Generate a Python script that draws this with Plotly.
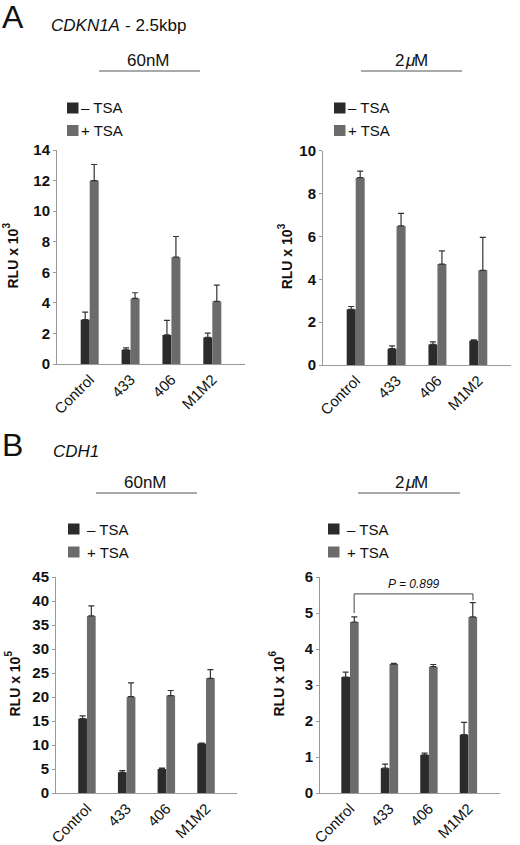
import plotly.graph_objects as go

categories = ["Control", "433", "406", "M1M2"]
series_names = ["– TSA", "+ TSA"]

# Panel A (CDKN1A - 2.5kbp), 60nM
a60_minus = [2.9, 0.93, 1.9, 1.74]
a60_minus_err = [0.5, 0.12, 0.95, 0.28]
a60_plus = [12.0, 4.29, 6.99, 4.1]
a60_plus_err = [1.05, 0.37, 1.35, 1.06]

# Panel A, 2uM
a2_minus = [2.6, 0.76, 0.96, 1.14]
a2_minus_err = [0.13, 0.13, 0.12, 0.03]
a2_plus = [8.74, 6.49, 4.71, 4.42]
a2_plus_err = [0.31, 0.59, 0.62, 1.54]

# Panel B (CDH1), 60nM
b60_minus = [15.5, 4.3, 5.0, 10.3]
b60_minus_err = [0.55, 0.35, 0.2, 0.12]
b60_plus = [36.9, 20.06, 20.3, 23.9]
b60_plus_err = [2.1, 2.9, 1.05, 1.8]

# Panel B, 2uM
b2_minus = [3.22, 0.69, 1.06, 1.62]
b2_minus_err = [0.14, 0.11, 0.05, 0.34]
b2_plus = [4.75, 3.58, 3.51, 4.89]
b2_plus_err = [0.14, 0.02, 0.06, 0.4]

y_ranges = [[0, 14], [0, 10], [0, 45], [0, 6]]
y_dticks = [2, 2, 5, 1]
y_title_base = "RLU x 10"
y_title_exps = ["3", "3", "5", "6"]
p_label = "P = 0.899"

DARK = "#2b2b2b"
LIGHT = "#6b6b6b"
AXIS = "#9a9a9a"
FONT = "Liberation Sans, Arial, sans-serif"
W, H = 520, 845

def px(x):
    return x / W

def py(y):
    return 1 - y / H

panels = [
    (a60_minus, a60_minus_err, a60_plus, a60_plus_err),
    (a2_minus, a2_minus_err, a2_plus, a2_plus_err),
    (b60_minus, b60_minus_err, b60_plus, b60_plus_err),
    (b2_minus, b2_minus_err, b2_plus, b2_plus_err),
]
plot_px = [
    (57, 245, 150, 364),
    (323, 511, 150.7, 365),
    (56, 237, 577, 793),
    (320, 500, 577, 793),
]
x_ranges = [[-0.8, 3.8], [-0.8, 3.8], [-0.78, 3.78], [-0.76, 3.8]]
title_x = [12, 287, 14, 278]

fig = go.Figure()
layout = {}
annotations = []
shapes = []

def text(x, y, s, size, italic=False, xanchor="center", weight="normal", angle=0):
    annotations.append(dict(
        x=px(x), y=py(y), xref="paper", yref="paper", text=s, showarrow=False,
        xanchor=xanchor, yanchor="middle", textangle=angle,
        font=dict(family=FONT, size=size, color="#111", style="italic" if italic else "normal",
                  weight=weight),
    ))

for i, (mv, me, pv, pe) in enumerate(panels):
    n = i + 1
    xa = "x" if n == 1 else f"x{n}"
    ya = "y" if n == 1 else f"y{n}"
    for vals, errs, col, name in [(mv, me, DARK, series_names[0]), (pv, pe, LIGHT, series_names[1])]:
        fig.add_trace(go.Bar(
            x=categories, y=vals, name=name, marker=dict(color=col, line=dict(width=0)),
            error_y=dict(type="data", symmetric=False, array=errs, arrayminus=[0] * len(errs),
                         color="#333333", thickness=1.2, width=3),
            xaxis=xa, yaxis=ya, showlegend=False,
        ))
    x0p, x1p, y0p, y1p = plot_px[i]
    xk = "xaxis" if n == 1 else f"xaxis{n}"
    yk = "yaxis" if n == 1 else f"yaxis{n}"
    layout[xk] = dict(
        domain=[px(x0p), px(x1p)], anchor=ya, range=x_ranges[i], type="category",
        showline=True, linecolor=AXIS, linewidth=1, ticks="", showgrid=False,
        tickangle=-45, tickfont=dict(family=FONT, size=15, color="#111"), zeroline=False,
        automargin=False,
    )
    layout[yk] = dict(
        domain=[py(y1p), py(y0p)], anchor=xa, range=y_ranges[i], dtick=y_dticks[i],
        showline=True, linecolor=AXIS, linewidth=1, ticks="outside", ticklen=3,
        tickcolor=AXIS, showgrid=False, zeroline=False, automargin=False,
        tickfont=dict(family=FONT, size=15, color="#111", weight="bold"),
    )
    # axis title with raised exponent
    ymid = (y0p + y1p) / 2 + 1.5
    text(title_x[i], ymid, y_title_base, 14, weight="bold", angle=-90)
    text(title_x[i] - 6, ymid - 33, y_title_exps[i], 10, weight="bold", angle=-90)

# Panel letters and gene titles
text(0, 17, "A", 32, xanchor="left")
text(49, 25, "CDKN1A", 17, italic=True, xanchor="left")
text(123, 25, "- 2.5kbp", 17, xanchor="left")
text(0, 445, "B", 32, xanchor="left")
text(51, 451, "CDH1", 17, italic=True, xanchor="left")

# Concentration headers with lines
for cx, cy, x0, x1, ly, unit in [
    (148, 60, 99, 200, 71, None),
    (410, 60, 361, 462, 71, "u"),
    (145, 482, 96, 197, 493, None),
    (410, 482, 358, 460, 493, "u"),
]:
    if unit is None:
        text(cx, cy, "60nM", 17)
    else:
        text(cx - 17, cy, "2", 17, xanchor="left")
        text(cx - 7.5, cy, "μ", 17, italic=True, xanchor="left")
        text(cx + 2.3, cy, "M", 17, xanchor="left")
    shapes.append(dict(type="line", xref="paper", yref="paper", x0=px(x0), x1=px(x1),
                       y0=py(ly), y1=py(ly), line=dict(color="#555", width=1)))

# Legends
for sx, tx, y1, y2 in [(67, 79, 108, 130.5), (334, 346, 108, 130.5),
                        (68, 85, 529, 552), (328, 345, 529, 552)]:
    for yy, col, name in [(y1, DARK, series_names[0]), (y2, LIGHT, series_names[1])]:
        shapes.append(dict(type="rect", xref="paper", yref="paper",
                           x0=px(sx), x1=px(sx + 11.5), y0=py(yy + 5.5), y1=py(yy - 5.5),
                           fillcolor=col, line=dict(width=0)))
        text(tx, yy, name, 15, xanchor="left")

# Significance bracket in panel B 2uM (category index + bar offset)
bx0, bx1 = 0.105, 3.115
shapes.append(dict(type="path", xref="x4", yref="y4",
                   path=f"M {bx0},5.0 L {bx0},5.53 L {bx1},5.53 L {bx1},5.35",
                   line=dict(color="#444", width=1)))
annotations.append(dict(x=(bx0 + bx1) / 2, y=5.81, xref="x4", yref="y4",
                        text=p_label, showarrow=False,
                        font=dict(family=FONT, size=12, color="#111", style="italic")))

fig.update_layout(
    template="none",
    width=W, height=H, margin=dict(l=0, r=0, t=0, b=0, autoexpand=False),
    paper_bgcolor="white", plot_bgcolor="white",
    barmode="group", bargap=0.56, bargroupgap=0,
    annotations=annotations, shapes=shapes, showlegend=False,
    font=dict(family=FONT), **layout,
)

fig.write_html("out.html", config={"displayModeBar": False},
               post_script="document.body.style.margin='0';document.body.style.overflow='hidden';")
